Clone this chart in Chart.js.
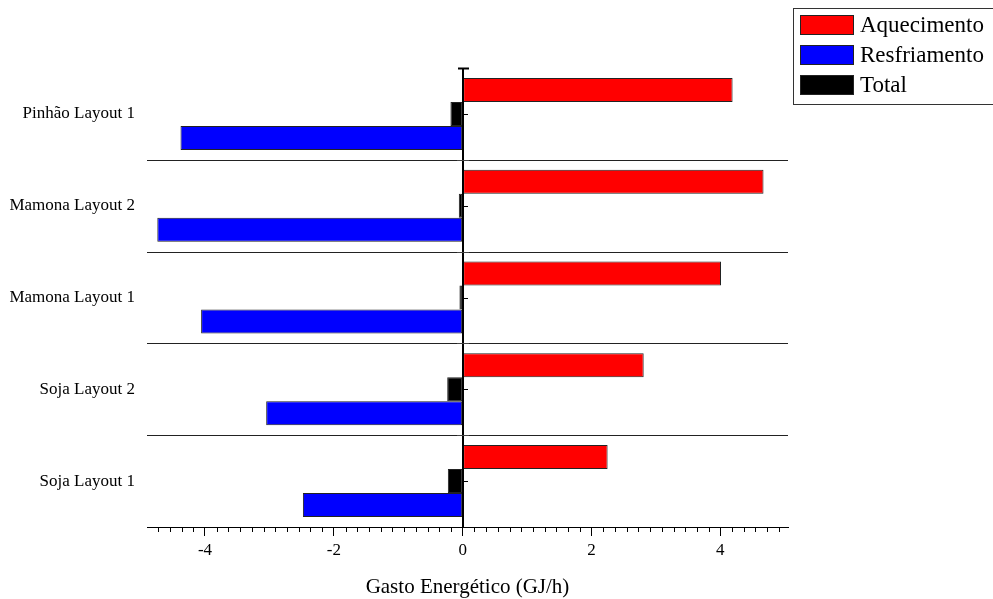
<!DOCTYPE html>
<html>
<head>
<meta charset="utf-8">
<script src="https://cdn.jsdelivr.net/npm/chart.js@4.4.1/dist/chart.umd.min.js"></script>
<style>
  html, body { margin: 0; padding: 0; background: #ffffff; }
  #wrap { width: 993px; height: 599px; }
</style>
</head>
<body>
<div id="wrap"><canvas id="chart" width="993" height="599"></canvas></div>
<script>
// Energy spent per configuration (GJ/h)
const categories = ['Pinhão Layout 1', 'Mamona Layout 2', 'Mamona Layout 1', 'Soja Layout 2', 'Soja Layout 1'];
const aquecimento = [4.19, 4.67, 4.01, 2.81, 2.25];
const resfriamento = [-4.38, -4.74, -4.06, -3.05, -2.48];
const total = [-0.19, -0.06, -0.05, -0.24, -0.23];
const xTickValues = [-4, -2, 0, 2, 4];
const legendOrder = ['Aquecimento', 'Resfriamento', 'Total'];

const SERIF = '"Liberation Serif", "Times New Roman", serif';
const MINOR_PER_MAJOR = 11;

// Separators between categories, zero axis with its marks, and minor ticks
const decorations = {
  id: 'decorations',
  beforeDatasetsDraw(chart) {
    const { ctx, chartArea, scales } = chart;
    const y = scales.y;
    ctx.save();
    ctx.strokeStyle = '#222';
    ctx.lineWidth = 1;
    for (let i = 0; i < categories.length - 1; i++) {
      const py = Math.round((y.getPixelForValue(i) + y.getPixelForValue(i + 1)) / 2) + 0.5;
      ctx.beginPath();
      ctx.moveTo(chartArea.left, py);
      ctx.lineTo(chartArea.right, py);
      ctx.stroke();
    }
    ctx.restore();
  },
  afterDatasetsDraw(chart) {
    const { ctx, chartArea, scales } = chart;
    const x = scales.x, y = scales.y;
    const x0 = Math.round(x.getPixelForValue(0));
    ctx.save();
    ctx.strokeStyle = '#000';
    // zero axis
    ctx.lineWidth = 2;
    ctx.beginPath();
    ctx.moveTo(x0, chartArea.top);
    ctx.lineTo(x0, chartArea.bottom);
    ctx.stroke();
    // cap at the top of the zero axis
    ctx.beginPath();
    ctx.moveTo(x0 - 5, chartArea.top + 0.5);
    ctx.lineTo(x0 + 6, chartArea.top + 0.5);
    ctx.stroke();
    ctx.lineWidth = 1;
    // small marks at category centres
    for (let i = 0; i < categories.length; i++) {
      const py = Math.round(y.getPixelForValue(i)) + 0.5;
      ctx.beginPath();
      ctx.moveTo(x0, py);
      ctx.lineTo(x0 + 5, py);
      ctx.stroke();
    }
    // crossing marks at category boundaries
    ctx.strokeStyle = '#444';
    for (let i = 0; i < categories.length - 1; i++) {
      const py = Math.round((y.getPixelForValue(i) + y.getPixelForValue(i + 1)) / 2) + 0.5;
      ctx.beginPath();
      ctx.moveTo(x0 - 6, py);
      ctx.lineTo(x0 + 6, py);
      ctx.stroke();
    }
    // minor ticks on the value axis
    ctx.strokeStyle = '#000';
    const step = 2 / MINOR_PER_MAJOR;
    const base = chartArea.bottom;
    const kMin = Math.ceil(x.min / step), kMax = Math.floor(x.max / step);
    for (let k = kMin; k <= kMax; k++) {
      if (k % MINOR_PER_MAJOR === 0) continue;
      const px = Math.round(x.getPixelForValue(k * step)) + 0.5;
      ctx.beginPath();
      ctx.moveTo(px, base);
      ctx.lineTo(px, base + 5);
      ctx.stroke();
    }
    ctx.restore();
  }
};

// Legend box in the upper-right corner
const boxLegend = {
  id: 'boxLegend',
  afterDraw(chart) {
    const { ctx } = chart;
    ctx.save();
    ctx.strokeStyle = '#333';
    ctx.lineWidth = 1;
    ctx.strokeRect(793.5, 8.5, 210, 96);
    ctx.font = '23px ' + SERIF;
    ctx.textBaseline = 'middle';
    ctx.textAlign = 'left';
    legendOrder.forEach((name, i) => {
      const ds = chart.data.datasets.find(d => d.label === name);
      const top = 15 + i * 30;
      ctx.fillStyle = ds.backgroundColor;
      ctx.fillRect(800, top, 54, 20);
      ctx.strokeStyle = '#222';
      ctx.strokeRect(800.5, top + 0.5, 53, 19);
      ctx.fillStyle = '#000';
      ctx.fillText(name, 860, top + 11);
    });
    ctx.restore();
  }
};

new Chart(document.getElementById('chart'), {
  type: 'bar',
  data: {
    labels: categories,
    datasets: [
      { label: 'Aquecimento', data: aquecimento, backgroundColor: '#ff0000' },
      { label: 'Total', data: total, backgroundColor: '#000000' },
      { label: 'Resfriamento', data: resfriamento, backgroundColor: '#0000ff' }
    ]
  },
  options: {
    indexAxis: 'y',
    responsive: false,
    animation: false,
    devicePixelRatio: 1,
    layout: { padding: { top: 68, right: 205, left: 0, bottom: 0 } },
    datasets: {
      bar: {
        categoryPercentage: 0.784,
        barPercentage: 1.0,
        borderWidth: 1,
        borderColor: '#222',
        borderSkipped: false
      }
    },
    plugins: {
      legend: { display: false },
      tooltip: { enabled: false }
    },
    scales: {
      x: {
        type: 'linear',
        min: -4.9,
        max: 5.05,
        afterBuildTicks(scale) {
          scale.ticks = xTickValues.map(v => ({ value: v }));
        },
        afterFit(scale) { scale.height = 72; },
        grid: { drawOnChartArea: false, drawTicks: true, tickLength: 9, color: '#000' },
        border: { display: true, color: '#000', width: 1 },
        ticks: {
          color: '#000',
          font: { family: SERIF, size: 17 },
          padding: 4,
          maxRotation: 0
        },
        title: {
          display: true,
          text: 'Gasto Energético (GJ/h)',
          color: '#000',
          font: { family: SERIF, size: 21, lineHeight: 1.1 },
          padding: { top: 0, bottom: 0 }
        }
      },
      y: {
        type: 'category',
        position: 'left',
        afterFit(scale) { scale.width = 147; },
        grid: { display: false },
        border: { display: false },
        ticks: {
          color: '#000',
          font: { family: SERIF, size: 17 },
          padding: 4
        }
      }
    }
  },
  plugins: [decorations, boxLegend]
});
</script>
</body>
</html>
